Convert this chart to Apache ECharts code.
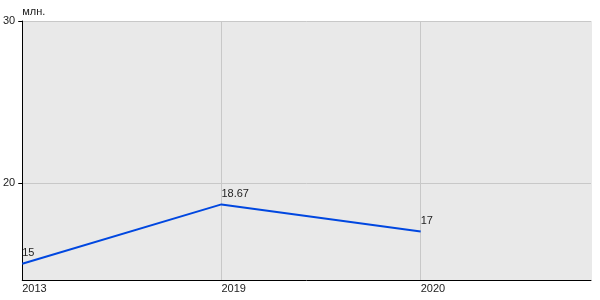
<!DOCTYPE html>
<html><head><meta charset="utf-8">
<script src="https://cdn.jsdelivr.net/npm/echarts@6/dist/echarts.min.js"></script>
<style>html,body{margin:0;padding:0;background:#fff}#c{width:600px;height:300px}</style>
</head><body><div id="c"></div>
<script>
const categories = ['2013', '2019', '2020'];
const values = [15, 18.67, 17];
const yTicks = [20, 30];
const unit = 'млн.';

const chart = echarts.init(document.getElementById('c'), null, {renderer: 'canvas'});
const txt = '#222';
chart.setOption({
  animation: false,
  grid: {left: 20, right: 9, top: 21, bottom: 20, show: true, backgroundColor: '#e9e9e9', borderWidth: 0},
  xAxis: {
    type: 'value', min: 0, max: 2.855, interval: 1,
    axisLine: {show: true, lineStyle: {color: '#000', width: 1}},
    axisTick: {show: false},
    splitLine: {show: true, lineStyle: {color: ['#c8c8c8', '#c8c8c8', '#c8c8c8', '#e9e9e9'], width: 1}},
    axisLabel: {
      color: txt, fontSize: 11, fontFamily: 'Liberation Sans, Arial, sans-serif', align: 'left', margin: 3,
      showMaxLabel: false,
      formatter: v => (Number.isInteger(v) && categories[v] !== undefined) ? categories[v] : ''
    }
  },
  yAxis: {
    type: 'value', min: 14, max: 30,
    axisLabel: {
      color: txt, fontSize: 11, fontFamily: 'Liberation Sans, Arial, sans-serif', margin: 7,
      customValues: yTicks, padding: [0, 0, 6, 0]
    },
    axisTick: {show: true, customValues: yTicks, length: 4, lineStyle: {color: '#000'}},
    axisLine: {show: true, lineStyle: {color: '#000', width: 1}},
    splitLine: {show: true, lineStyle: {color: '#c8c8c8', width: 1}},
    name: unit, nameLocation: 'end', nameGap: 4,
    nameTextStyle: {color: txt, fontSize: 11, fontFamily: 'Liberation Sans, Arial, sans-serif', align: 'left', padding: [0, 0, 0, 0]}
  },
  series: [{
    type: 'line',
    data: values.map((v, i) => [i, v]),
    showSymbol: true, symbol: 'circle', symbolSize: 0,
    lineStyle: {color: '#0047e0', width: 2},
    itemStyle: {color: '#0047e0'},
    label: {show: true, position: [0, -16], color: txt, fontSize: 11, fontFamily: 'Liberation Sans, Arial, sans-serif', align: 'left', verticalAlign: 'top'}
  }]
});
</script></body></html>
